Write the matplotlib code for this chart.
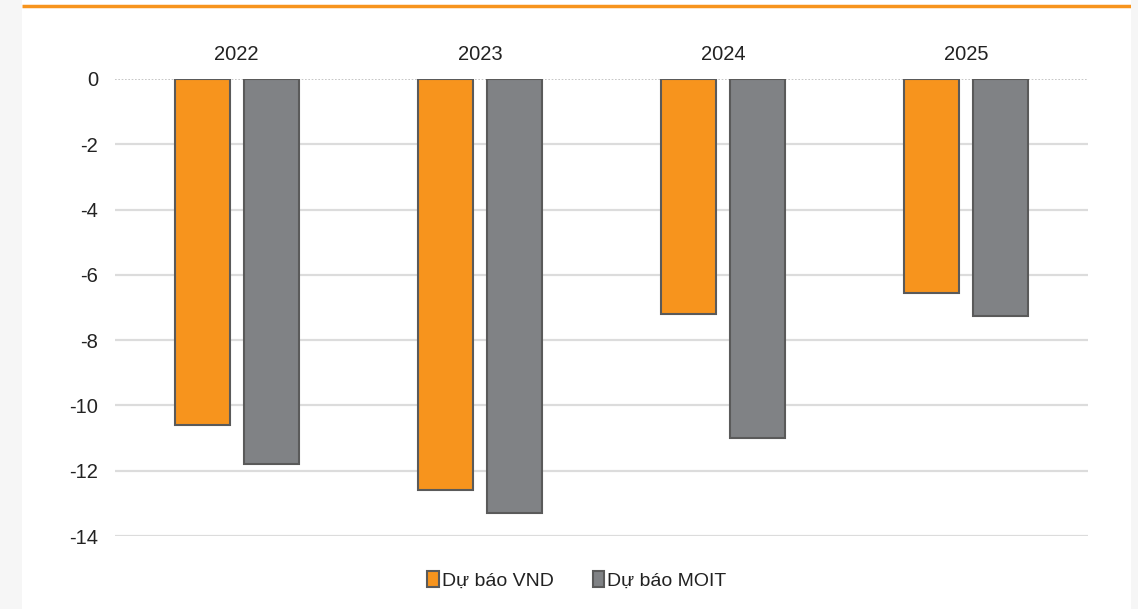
import numpy as np
import matplotlib.pyplot as plt

plt.rcParams['font.family'] = ['Liberation Sans', 'DejaVu Sans']

years = ['2022', '2023', '2024', '2025']
vnd = [-10.6, -12.6, -7.2, -6.55]
moit = [-11.8, -13.3, -11.0, -7.25]
yticks = [0, -2, -4, -6, -8, -10, -12, -14]

fig = plt.figure(figsize=(11.38, 6.09), dpi=100)
fig.patch.set_facecolor('#f6f6f6')

# white panel with orange rule on top
panel = fig.add_axes([22 / 1138, 0, (1131 - 22) / 1138, 1])
panel.set_xlim(0, 1)
panel.set_ylim(0, 1)
panel.axis('off')
panel.add_patch(plt.Rectangle((0, 0), 1, 1, facecolor='white', edgecolor='none'))
panel.plot([0, 1], [1 - 6 / 609, 1 - 6 / 609], color='#f7941d', lw=2.5,
           solid_capstyle='butt')

ax = fig.add_axes([115 / 1138, 1 - 536 / 609, (1088 - 115) / 1138, (536 - 79) / 609])
ax.set_facecolor('none')

x = np.arange(len(years)) + 0.5
w = 0.226
off = 0.142
ax.bar(x - off, vnd, w, color='#f7941d', edgecolor='#5a5a5a', linewidth=1.5,
       label='Dự báo VND', zorder=3)
ax.bar(x + off, moit, w, color='#808285', edgecolor='#5a5a5a', linewidth=1.5,
       label='Dự báo MOIT', zorder=3)

ax.set_xlim(0, 4)
ax.set_ylim(-14, 0)
ax.set_yticks(yticks)
ax.set_yticklabels([str(t) for t in yticks])
for t in yticks:
    if t == 0:
        ax.axhline(t, color='#bdbdbd', lw=1.2, ls=(0, (1, 1)), zorder=1)
    else:
        ax.axhline(t, color='#dcdcdc', lw=1.6, zorder=1)

ax.xaxis.tick_top()
ax.set_xticks(x)
ax.set_xticklabels(years)
ax.tick_params(axis='both', length=0, labelsize=14.5, colors='#222222')
ax.tick_params(axis='x', pad=11)
ax.tick_params(axis='y', pad=12)
for s in ax.spines.values():
    s.set_visible(False)

leg = fig.legend(loc='center', bbox_to_anchor=(577 / 1138, 1 - 580 / 609), ncol=2,
                 frameon=False, fontsize=14, handlelength=0.6, handleheight=0.9,
                 handletextpad=0.15, columnspacing=2.0)
for txt in leg.get_texts():
    txt.set_color('#222222')

fig.savefig('out.png', dpi=100, facecolor=fig.get_facecolor())
